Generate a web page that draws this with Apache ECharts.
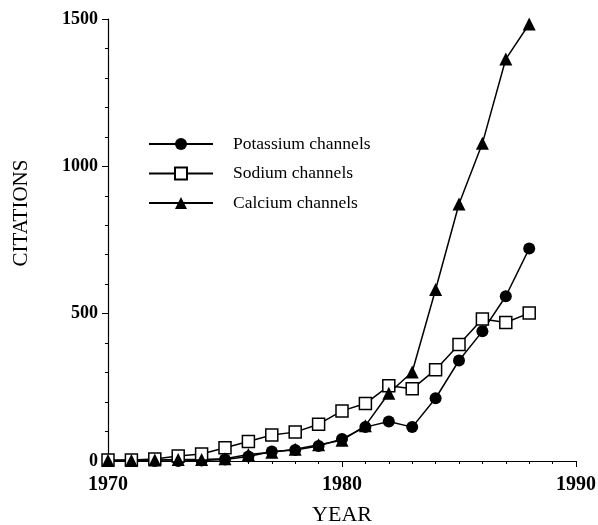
<!DOCTYPE html>
<html>
<head>
<meta charset="utf-8">
<script src="https://cdn.jsdelivr.net/npm/echarts@6/dist/echarts.min.js"></script>
<style>
  html, body { margin: 0; padding: 0; background: #fff; }
  #chart { width: 598px; height: 525px; }
</style>
</head>
<body>
<div id="chart"></div>
<script>
// data
var years = [1970, 1971, 1972, 1973, 1974, 1975, 1976, 1977, 1978, 1979, 1980, 1981, 1982, 1983, 1984, 1985, 1986, 1987, 1988];
var potassium = [0, 0, 0, 0, 2, 5, 15, 32, 37, 51, 75, 115, 134, 115, 213, 341, 440, 559, 721];
var sodium = [3, 3, 7, 17, 24, 45, 66, 88, 98, 125, 170, 195, 255, 245, 310, 395, 482, 470, 502];
var calcium = [2, 2, 3, 5, 5, 8, 22, 30, 40, 55, 70, 120, 230, 302, 582, 872, 1078, 1364, 1483];
var seriesNames = ['Potassium channels', 'Sodium channels', 'Calcium channels'];

function pairs(vals) {
    return years.map(function(y, i) { return [y, vals[i]]; });
}

var font = '"Liberation Serif", "DejaVu Serif", serif';
var chart = echarts.init(document.getElementById('chart'));

var lineBase = {
    type: 'line',
    lineStyle: { color: '#000', width: 1.5 },
    animation: false
};

var option = {
    backgroundColor: '#fff',
    grid: { left: 108, right: 22, top: 19, bottom: 64, outerBoundsMode: 'none' },
    legend: {
        orient: 'vertical',
        left: 143,
        top: 130,
        itemWidth: 64,
        itemHeight: 15,
        itemGap: 11.5,
        textStyle: { fontFamily: font, fontSize: 17.5, color: '#000', padding: [0, 0, 0, 15] },
        data: seriesNames
    },
    xAxis: {
        type: 'value',
        min: 1970,
        max: 1990,
        interval: 10,
        name: 'YEAR',
        nameLocation: 'middle',
        nameGap: 43,
        nameTextStyle: { fontFamily: font, fontSize: 22, color: '#000' },
        axisLine: { lineStyle: { color: '#000', width: 1.2 } },
        axisTick: { inside: false, length: 6, lineStyle: { color: '#000' } },
        minorTick: { show: true, splitNumber: 10, length: 3, lineStyle: { color: '#000' } },
        splitLine: { show: false },
        axisLabel: {
            fontFamily: font, fontSize: 20, fontWeight: 'bold', color: '#000', margin: 14,
            formatter: function(v) { return String(v); }
        }
    },
    yAxis: {
        type: 'value',
        min: 0,
        max: 1500,
        interval: 500,
        name: 'CITATIONS',
        nameLocation: 'middle',
        nameGap: 76,
        nameTextStyle: { fontFamily: font, fontSize: 21, color: '#000', padding: [0, 0, 0, 54] },
        axisLine: { show: true, lineStyle: { color: '#000', width: 1.2 } },
        axisTick: { show: true, length: 6, lineStyle: { color: '#000' } },
        minorTick: { show: true, splitNumber: 5, length: 3, lineStyle: { color: '#000' } },
        splitLine: { show: false },
        axisLabel: {
            fontFamily: font, fontSize: 18, fontWeight: 'bold', color: '#000', margin: 10,
            formatter: function(v) { return String(v); }
        }
    },
    series: [
        Object.assign({}, lineBase, {
            name: seriesNames[0],
            data: pairs(potassium),
            symbol: 'circle',
            symbolSize: 12,
            itemStyle: { color: '#000' }
        }),
        Object.assign({}, lineBase, {
            name: seriesNames[1],
            data: pairs(sodium),
            symbol: 'rect',
            symbolSize: 12,
            itemStyle: { color: '#fff', borderColor: '#000', borderWidth: 1.5 }
        }),
        Object.assign({}, lineBase, {
            name: seriesNames[2],
            data: pairs(calcium),
            symbol: 'triangle',
            symbolSize: 13,
            itemStyle: { color: '#000' }
        })
    ]
};

chart.setOption(option);
</script>
</body>
</html>
